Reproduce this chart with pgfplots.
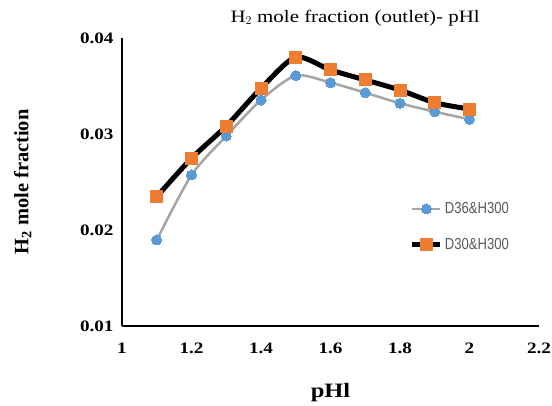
\documentclass[border=0pt]{standalone}
\usepackage{fontspec}
\setmainfont{Liberation Serif}
\newfontfamily\wfont[FakeStretch=1.2]{Liberation Serif}
\newfontfamily\legfont[FakeStretch=0.82]{Liberation Sans}
\usepackage{pgfplots}
\pgfplotsset{compat=1.18}
\definecolor{dblue}{HTML}{5B9BD5}
\definecolor{dorange}{HTML}{ED7D31}
\definecolor{lgray}{HTML}{A5A5A5}
\definecolor{tgray}{HTML}{595959}
\begin{document}
\begin{tikzpicture}[x=1bp,y=1bp]
\useasboundingbox (-122,-79) rectangle (430,326);
\begin{axis}[
  at={(0,0)}, anchor=south west,
  scale only axis, width=417bp, height=288bp,
  xmin=1, xmax=2.2, ymin=0.01, ymax=0.04,
  scaled ticks=false,
  axis x line=bottom, axis y line=left,
  axis line style={line width=1.2pt, -},
  xtick={1,1.2,...,2.2}, xticklabels={1,1.2,1.4,1.6,1.8,2,2.2},
  ytick={0.01,0.02,0.03,0.04},
  yticklabels={0.01,0.02,0.03,0.04},
  major tick length=0pt,
  tick label style={font=\wfont\fontsize{16}{18}\selectfont\bfseries},
  xticklabel style={yshift=-13bp},
  yticklabel style={xshift=-5bp},
  xlabel={pHl}, ylabel={H$_{\mathbf 2}$ mole fraction},
  xlabel style={font=\wfont\fontsize{20.5}{24}\selectfont\bfseries, at={(axis description cs:0.5,0)}, anchor=center, yshift=-67bp},
  ylabel style={font=\fontsize{20.5}{24}\selectfont\bfseries, at={(axis description cs:-0.238,0.5)}, anchor=center, rotate=0},
  legend style={draw=none, fill=none, at={(rel axis cs:0.69,0.436)}, anchor=north west,
    font=\legfont\fontsize{16}{18}\selectfont\color{tgray}, row sep=19bp, inner sep=0pt},
  legend cell align=left,
  legend image code/.code={\draw[mark repeat=2,mark phase=2] plot coordinates {(0bp,0bp) (14bp,0bp) (28bp,0bp)};},
  clip=false,
]
\addplot[lgray, line width=2.5bp, smooth, tension=0.45, mark=*, mark size=5bp,
  mark options={dblue, draw=dblue, fill=dblue, line width=0pt}]
  coordinates {(1.1,0.01896)(1.2,0.02573)(1.3,0.02979)(1.4,0.03354)(1.5,0.03608)
  (1.6,0.03535)(1.7,0.0343)(1.8,0.0332)(1.9,0.03232)(2.0,0.03153)};
\addlegendentry{D36\&H300}
\addplot[black, line width=5bp, smooth, tension=0.45, mark=square*, mark size=6bp,
  mark options={dorange, draw=dorange, fill=dorange, line width=0pt}]
  coordinates {(1.1,0.02347)(1.2,0.02747)(1.3,0.03083)(1.4,0.03476)(1.5,0.0380)
  (1.6,0.03667)(1.7,0.03563)(1.8,0.03458)(1.9,0.03326)(2.0,0.0326)};
\addlegendentry{D30\&H300}
\node[font=\wfont\fontsize{17.5}{20}\selectfont, anchor=center] at (axis description cs:0.559,1.07) {H$_2$ mole fraction (outlet)- pHl};
\end{axis}
\end{tikzpicture}
\end{document}
